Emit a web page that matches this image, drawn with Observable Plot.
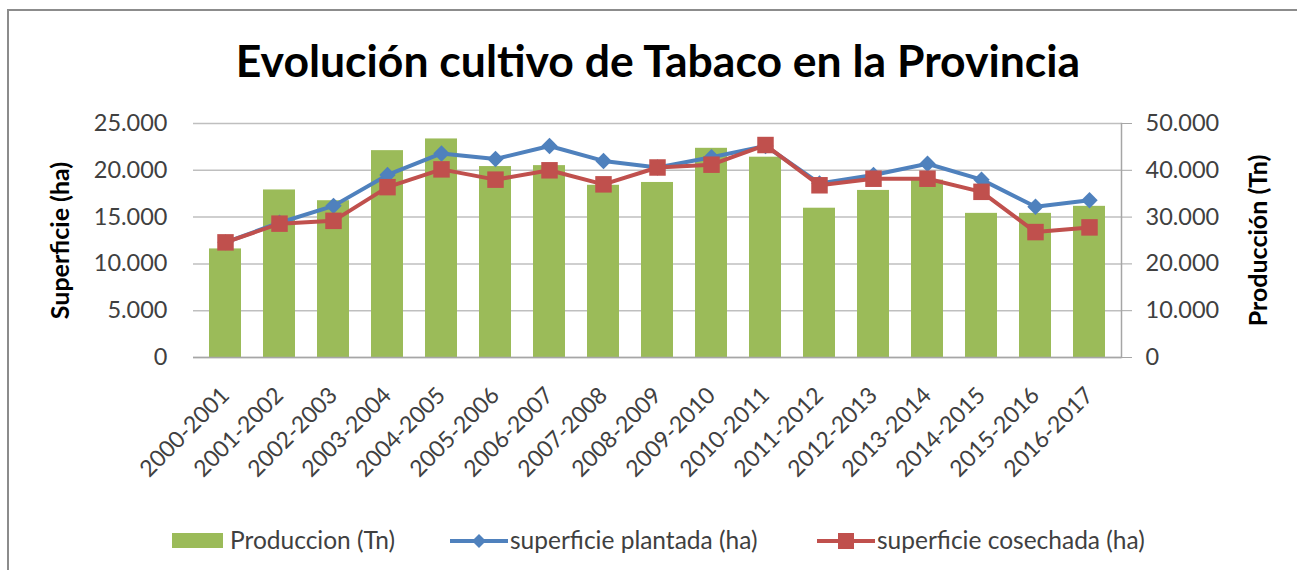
<!DOCTYPE html>
<html>
<head>
<meta charset="utf-8">
<script src="https://cdn.jsdelivr.net/npm/d3@7"></script>
<script src="https://cdn.jsdelivr.net/npm/@observablehq/plot@0.6"></script>
<style>
  html, body { margin: 0; padding: 0; background: #fff; }
  #wrap { position: relative; width: 1297px; height: 570px; overflow: hidden; font-family: Lato, "Open Sans", sans-serif; }
  #border { position: absolute; left: 7px; top: 9px; width: 1400px; height: 700px; border-left: 2px solid #8c8c8c; border-top: 2px solid #8c8c8c; }
  #title { position: absolute; left: 658px; top: 38px; transform: translateX(-50%); white-space: nowrap; font-size: 44.5px; line-height: 44px; font-weight: 700; color: #000; }
  #chart { position: absolute; left: 0; top: 100px; }
  .leg { position: absolute; top: 525px; font-size: 24.5px; line-height: 30px; color: #404040; white-space: nowrap; }
  .sw { position: absolute; }
</style>
</head>
<body>
<div id="wrap">
  <div id="border"></div>
  <div id="title">Evolución cultivo de Tabaco en la Provincia</div>
  <div id="chart"></div>
  <svg class="sw" style="left:172px;top:533px" width="52" height="16"><rect x="0" y="0" width="51" height="15" fill="#9BBB59"/></svg>
  <div class="leg" style="left:230px">Produccion (Tn)</div>
  <svg class="sw" style="left:448px;top:531px" width="62" height="20"><line x1="2" x2="60" y1="10" y2="10" stroke="#4F81BD" stroke-width="4"/><path d="M31,3 L38,10 L31,17 L24,10 Z" fill="#4F81BD"/></svg>
  <div class="leg" style="left:510px">superficie plantada (ha)</div>
  <svg class="sw" style="left:815px;top:531px" width="62" height="20"><line x1="2" x2="60" y1="10" y2="10" stroke="#C0504D" stroke-width="4"/><rect x="23" y="2" width="16" height="16" fill="#C0504D"/></svg>
  <div class="leg" style="left:877px">superficie cosechada (ha)</div>
</div>
<script>
const categories = ["2000-2001","2001-2002","2002-2003","2003-2004","2004-2005","2005-2006","2006-2007","2007-2008","2008-2009","2009-2010","2010-2011","2011-2012","2012-2013","2013-2014","2014-2015","2015-2016","2016-2017"];
const produccionTn = [23200, 35800, 33500, 44200, 46700, 40800, 41000, 36800, 37400, 44700, 42800, 31900, 35700, 37900, 30800, 30800, 32300];
const superficiePlantada = [12300, 14400, 16200, 19500, 21800, 21200, 22600, 21000, 20300, 21400, 22600, 18600, 19500, 20700, 19000, 16100, 16800];
const superficieCosechada = [12300, 14300, 14600, 18200, 20100, 19000, 20000, 18500, 20300, 20600, 22700, 18400, 19100, 19100, 17700, 13400, 13900];
const leftTicks = [0, 5000, 10000, 15000, 20000, 25000];
const rightTicks = [0, 10000, 20000, 30000, 40000, 50000];

const rows = categories.map((c, i) => ({
  cat: c,
  prod: produccionTn[i],
  plant: superficiePlantada[i],
  cos: superficieCosechada[i]
}));

const fmt = d3.formatLocale({decimal: ",", thousands: ".", grouping: [3], currency: ["", ""]}).format(",");
// right axis (Tn) is twice the left axis (ha)
const tnToHa = v => v / 2;

const chart = Plot.plot({
  width: 1297,
  height: 410,
  marginTop: 23,
  marginBottom: 153,
  marginLeft: 193,
  marginRight: 176,
  style: { fontFamily: "Lato, 'Open Sans', sans-serif", color: "#404040", background: "transparent", overflow: "visible" },
  x: { type: "band", domain: categories, paddingInner: 0.41, paddingOuter: 0.205, label: null },
  y: { domain: [0, 25000], label: null },
  marks: [
    Plot.ruleY(leftTicks, { stroke: "#bfbfbf", strokeWidth: 1.5 }),
    Plot.barY(rows, { x: "cat", y: d => tnToHa(d.prod), fill: "#9BBB59" }),
    Plot.ruleY([0], { stroke: "#a6a6a6", strokeWidth: 1.5 }),
    Plot.frame({ anchor: "right", stroke: "#a6a6a6", strokeWidth: 1.5 }),
    Plot.axisY(leftTicks, { anchor: "left", tickSize: 0, tickPadding: 26, tickFormat: fmt, fontSize: 23.5, label: null }),
    Plot.axisY(rightTicks.map(tnToHa), { anchor: "right", tickSize: 10, tickPadding: 14, tickFormat: d => fmt(d * 2), fontSize: 23.5, label: null, stroke: "#a6a6a6" }),
    Plot.axisX({ tickRotate: -45, tickSize: 0, tickPadding: 34, fontSize: 23, label: null }),
    Plot.line(rows, { x: "cat", y: "plant", stroke: "#4F81BD", strokeWidth: 4 }),
    Plot.dot(rows, { x: "cat", y: "plant", symbol: "diamond2", r: 7.4, fill: "#4F81BD", stroke: "none" }),
    Plot.line(rows, { x: "cat", y: "cos", stroke: "#C0504D", strokeWidth: 4 }),
    Plot.dot(rows, { x: "cat", y: "cos", symbol: "square", r: 9.3, fill: "#C0504D", stroke: "none" }),
    Plot.text(["Superficie (ha)"], { frameAnchor: "left", dx: -133, rotate: -90, textAnchor: "middle", lineAnchor: "middle", fontSize: 25, fontWeight: "bold", fill: "#000" }),
    Plot.text(["Producción (Tn)"], { frameAnchor: "right", dx: 137, rotate: -90, textAnchor: "middle", lineAnchor: "middle", fontSize: 25, fontWeight: "bold", fill: "#000" })
  ]
});
document.getElementById("chart").appendChild(chart);
</script>
</body>
</html>
